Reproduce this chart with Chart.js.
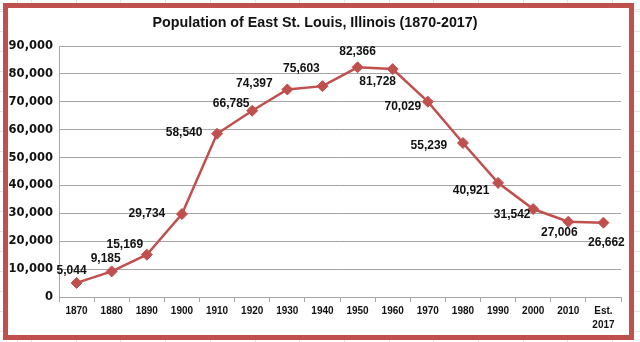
<!DOCTYPE html>
<html>
<head>
<meta charset="utf-8">
<script src="https://cdn.jsdelivr.net/npm/chart.js@4/dist/chart.umd.min.js"></script>
<style>
  html, body { margin: 0; padding: 0; }
  body {
    width: 640px;
    height: 342px;
    overflow: hidden;
    position: relative;
    background-color: #fff;
    /* faint spreadsheet cells behind the chart */
    background-image:
      repeating-linear-gradient(to right, #e2e2e2 0 1px, transparent 1px 44.7px),
      repeating-linear-gradient(to bottom, #e2e2e2 0 1px, transparent 1px 20px);
    background-position: 31px 0, 0 11px;
  }
  #frame {
    position: absolute;
    left: 3px;
    top: 3px;
    width: 631px;
    height: 337px;
    box-sizing: border-box;
    border: 5px solid #c0504d;
    background: #fff;
  }
  canvas { display: block; }
</style>
</head>
<body>
<div id="frame"><canvas id="chart" width="621" height="327"></canvas></div>
<script>
const chartTitle = 'Population of East St. Louis, Illinois (1870-2017)';
const years = ['1870', '1880', '1890', '1900', '1910', '1920', '1930', '1940',
  '1950', '1960', '1970', '1980', '1990', '2000', '2010', ['Est.', '2017']];
const population = [5044, 9185, 15169, 29734, 58540, 66785, 74397, 75603,
  82366, 81728, 70029, 55239, 40921, 31542, 27006, 26662];
const yMin = 0;
const yMax = 90000;
const yStep = 10000;

// where each value label sits relative to its marker (px), as placed in the original
const labelOffsets = [[-5, -12], [-6, -13], [-22, -10], [-35, 0], [-33, -1], [-21, -7],
  [-33, -6], [-21, -17], [0, -16], [-15, 13], [-25, 5], [-34, 3], [-27, 8], [-21, 6],
  [-9, 11], [3, 20]];

const red = '#c0504d';
const gridGrey = '#a6a6a6';
const fmt = (v) => v.toLocaleString('en-US');

// Draws the title and the value labels next to the markers
const annotatePlugin = {
  id: 'annotate',
  afterDatasetsDraw(chart) {
    const { ctx } = chart;
    const meta = chart.getDatasetMeta(0);
    ctx.save();
    ctx.fillStyle = '#111';
    ctx.textAlign = 'center';
    ctx.textBaseline = 'middle';
    ctx.font = 'bold 12px "Liberation Sans", Arial, sans-serif';
    meta.data.forEach((pt, i) => {
      const [dx, dy] = labelOffsets[i];
      ctx.fillText(fmt(population[i]), pt.x + dx, pt.y + dy);
    });
    ctx.textBaseline = 'alphabetic';
    ctx.font = 'bold 15px "Liberation Sans", Arial, sans-serif';
    ctx.fillText(chartTitle, 307, 19, 325);
    ctx.restore();
  },
};

new Chart(document.getElementById('chart'), {
  type: 'line',
  data: {
    labels: years,
    datasets: [
      {
        data: population,
        borderColor: red,
        borderWidth: 2.5,
        backgroundColor: red,
        pointStyle: 'rectRot',
        pointRadius: 5.5,
        pointBackgroundColor: red,
        pointBorderColor: red,
        pointBorderWidth: 1,
        tension: 0,
      },
    ],
  },
  options: {
    responsive: false,
    animation: false,
    layout: { padding: { top: 38, right: 8, left: 0, bottom: 0 } },
    plugins: {
      legend: { display: false },
      tooltip: { enabled: false },
      title: { display: false },
    },
    scales: {
      x: {
        offset: true,
        grid: { offset: true, drawOnChartArea: false, color: gridGrey, tickLength: 5 },
        border: { color: gridGrey },
        ticks: {
          color: '#111',
          padding: 2,
          maxRotation: 0,
          autoSkip: false,
          font: { family: '"Liberation Sans", Arial, sans-serif', size: 10, weight: 'bold', lineHeight: 1.4 },
        },
        afterFit(scale) { scale.height = 38; },
      },
      y: {
        min: yMin,
        max: yMax,
        grid: { color: gridGrey, drawTicks: false },
        border: { color: gridGrey },
        ticks: {
          stepSize: yStep,
          padding: 6,
          color: '#111',
          font: { family: '"DejaVu Sans", sans-serif', size: 11.5, weight: 'bold' },
          callback: (v) => fmt(v),
        },
        afterFit(scale) { scale.width = 51; },
      },
    },
  },
  plugins: [annotatePlugin],
});
</script>
</body>
</html>
